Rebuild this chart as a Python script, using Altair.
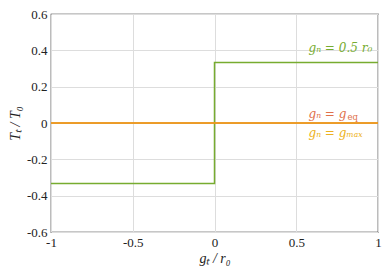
import altair as alt
import pandas as pd

# data
gt_green = [-1, 0, 0, 1]
tt_green = [-0.333, -0.333, 0.333, 0.333]
gt_eq = [-1, 1]
tt_eq = [0, 0]
gt_max = [-1, 1]
tt_max = [0, 0]

x_ticks = [-1, -0.5, 0, 0.5, 1]
y_ticks = [-0.6, -0.4, -0.2, 0, 0.2, 0.4, 0.6]

label_text = ["gₙ = 0.5 r₀", "gₙ = g", "gₙ = gₘₐₓ"]
label_x = [0.575, 0.575, 0.575]
label_y = [0.415, 0.05, -0.055]
label_color = ["#77ac30", "#e0704a", "#edb120"]

rows = []
for i, (x, y) in enumerate(zip(gt_green, tt_green)):
    rows.append({"gt": x, "tt": y, "s": "green", "o": i})
for i, (x, y) in enumerate(zip(gt_eq, tt_eq)):
    rows.append({"gt": x, "tt": y, "s": "eq", "o": i})
for i, (x, y) in enumerate(zip(gt_max, tt_max)):
    rows.append({"gt": x, "tt": y, "s": "max", "o": i})
df = pd.DataFrame(rows)

xs = alt.Scale(domain=[-1, 1], nice=False, zero=False)
ys = alt.Scale(domain=[-0.6, 0.6], nice=False, zero=False)

font = "Liberation Serif"

x_axis = alt.Axis(values=x_ticks, title="gₜ / r₀", grid=True, labelOverlap=False,
                  labelExpr="replace(format(datum.value, '~g'), '−', '-')")
y_axis = alt.Axis(values=y_ticks, title="Tₜ / T₀", grid=True, labelOverlap=False,
                  labelExpr="datum.value == 0 ? '0' : replace(format(datum.value, '.1f'), '−', '-')")

base = alt.Chart(df).encode(
    x=alt.X("gt:Q", scale=xs, axis=x_axis),
    y=alt.Y("tt:Q", scale=ys, axis=y_axis),
    order="o:Q",
    color=alt.Color("s:N", scale=alt.Scale(domain=["green", "eq", "max"],
                                           range=["#77ac30", "#d95319", "#f0a81e"]),
                    legend=None),
)

lines = base.mark_line(strokeWidth=1.5, clip=True)

lab = pd.DataFrame({"gt": label_x, "tt": label_y, "t": label_text, "c": label_color})
labels = alt.Chart(lab).mark_text(align="left", baseline="middle", fontSize=12,
                                  font="DejaVu Serif", fontStyle="italic").encode(
    x=alt.X("gt:Q", scale=xs, axis=x_axis), y=alt.Y("tt:Q", scale=ys, axis=y_axis),
    text="t:N", color=alt.Color("c:N", scale=None))

sub = pd.DataFrame({"gt": [0.575], "tt": [0.05], "t": ["eq"], "c": ["#e0704a"]})
sublabel = alt.Chart(sub).mark_text(align="left", baseline="middle", fontSize=8.5,
                                    font="DejaVu Serif", dx=39, dy=3).encode(
    x=alt.X("gt:Q", scale=xs, axis=x_axis), y=alt.Y("tt:Q", scale=ys, axis=y_axis),
    text="t:N", color=alt.Color("c:N", scale=None))

chart = alt.layer(lines, labels, sublabel).properties(
    width=327, height=218,
    autosize=alt.AutoSizeParams(type="none"),
    padding={"left": 43, "top": 6, "right": 4, "bottom": 36},
).configure_view(stroke="#222222", strokeWidth=1.2).configure_axis(
    labelFont=font, titleFont=font, labelFontSize=13, titleFontSize=14,
    titleFontWeight="normal", titleFontStyle="italic",
    labelColor="#222222", titleColor="#222222",
    gridColor="#dddddd", gridWidth=1, domain=False, ticks=False,
    labelPadding=4, labelFlush=False,
).configure_axisX(titlePadding=2).configure_axisY(titlePadding=4)

chart.save("out.html", embed_options={"renderer": "svg", "actions": False})
